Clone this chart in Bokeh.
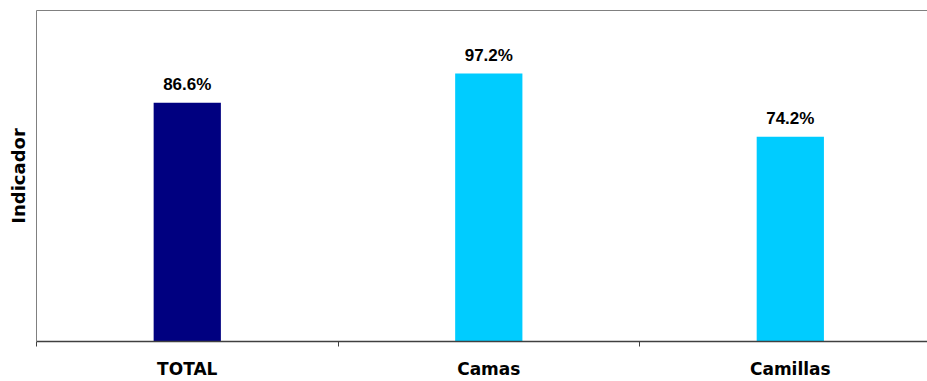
from bokeh.plotting import figure
from bokeh.layouts import column
from bokeh.models import Range1d, FixedTicker, LinearAxis, ColumnDataSource, Grid
from bokeh.core.properties import value
from bokeh.embed import file_html
from bokeh.resources import INLINE

# ---- data ----
categories = ["TOTAL", "Camas", "Camillas"]
values = [86.6, 97.2, 74.2]
colors = ["#000080", "#00CCFF", "#00CCFF"]
y_label = "Indicador"

centers = [i + 0.5 for i in range(len(categories))]
boundaries = [i for i in range(len(categories) + 1)]
src = ColumnDataSource(dict(
    x=centers,
    top=values,
    label=[f"{v:.1f}%" for v in values],
    color=colors,
))

# the plot area runs up to the right edge of the window (container clips the overflow)
x_end = 2.955
p = figure(width=937, height=381, output_backend="svg", toolbar_location=None,
           x_range=Range1d(0, x_end), y_range=Range1d(0, 120),
           x_axis_location=None, y_axis_location=None,
           min_border_left=36, min_border_right=0,
           min_border_top=10, min_border_bottom=39)
p.outline_line_color = None
p.background_fill_color = "white"
p.border_fill_color = "white"
for r in list(p.center):
    if isinstance(r, Grid):
        r.visible = False

p.vbar(x="x", top="top", bottom=0, width=0.223, color="color", source=src, line_color=None)

p.text(x="x", y="top", text="label", source=src,
       text_align="center", text_baseline="alphabetic", y_offset=-18,
       text_font=value("Liberation Sans"), text_font_style="bold",
       text_font_size="17px", text_color="black")

# left axis (line only + title)
yaxis = LinearAxis(ticker=FixedTicker(ticks=[]), axis_label=y_label,
                   axis_label_text_font="DejaVu Sans", axis_label_text_font_style="bold",
                   axis_label_text_font_size="18px", axis_label_text_color="black",
                   axis_label_standoff=8,
                   axis_line_color="#808080", axis_line_width=1,
                   major_tick_out=0, major_tick_in=0, minor_tick_out=0, minor_tick_in=0,
                   major_label_standoff=0)
p.add_layout(yaxis, "left")

# top border line
top_axis = LinearAxis(ticker=FixedTicker(ticks=[]), axis_line_color="#808080", axis_line_width=1,
                      major_tick_out=0, major_tick_in=0, minor_tick_out=0, minor_tick_in=0,
                      major_label_standoff=0)
p.add_layout(top_axis, "above")

# bottom category axis
xaxis = LinearAxis(ticker=FixedTicker(ticks=centers, minor_ticks=boundaries),
                   major_label_overrides={c: name for c, name in zip(centers, categories)},
                   major_label_text_font="DejaVu Sans", major_label_text_font_style="bold",
                   major_label_text_font_size="17px", major_label_text_color="black",
                   major_label_standoff=12,
                   axis_line_color="#404040", axis_line_width=1.5,
                   major_tick_out=0, major_tick_in=0,
                   minor_tick_out=5, minor_tick_in=0, minor_tick_line_color="#404040")
p.add_layout(xaxis, "below")

layout = column(p, width=927, height=381, styles={"overflow": "hidden"})

open("out.html", "w").write(file_html(layout, INLINE))
